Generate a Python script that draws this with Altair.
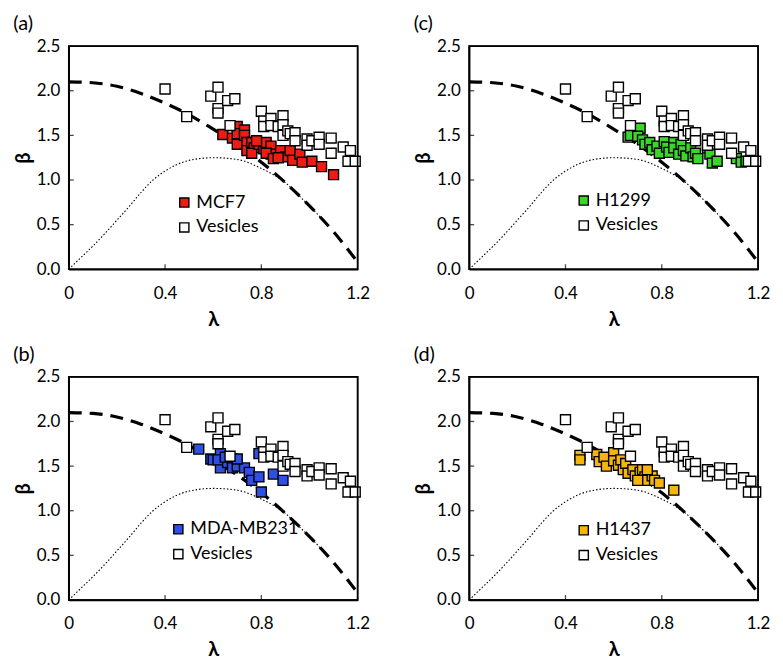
import altair as alt
import pandas as pd

# ---------------- data ----------------
ves_lam = [0.40, 0.49, 0.59, 0.62, 0.62, 0.62, 0.66, 0.69, 0.67, 0.80, 0.81, 0.81,
           0.84, 0.84, 0.87, 0.89, 0.89, 0.89, 0.91, 0.92, 0.94, 0.94, 0.99, 0.99,
           1.01, 1.04, 1.04, 1.09, 1.09, 1.14, 1.17, 1.16, 1.19]
ves_beta = [2.02, 1.71, 1.94, 2.04, 1.80, 1.75, 1.89, 1.91, 1.61, 1.77, 1.66, 1.60,
            1.69, 1.61, 1.60, 1.72, 1.62, 1.50, 1.55, 1.52, 1.53, 1.44, 1.46, 1.39,
            1.44, 1.48, 1.40, 1.47, 1.30, 1.37, 1.33, 1.21, 1.21]

mcf7_lam = [0.64, 0.70, 0.68, 0.70, 0.70, 0.73, 0.73, 0.74, 0.74, 0.76, 0.77, 0.76,
            0.79, 0.81, 0.82, 0.84, 0.84, 0.82, 0.85, 0.88, 0.90, 0.92, 0.93, 0.96,
            0.97, 1.01, 1.05, 1.10, 0.78, 0.87]
mcf7_beta = [1.51, 1.60, 1.47, 1.40, 1.52, 1.56, 1.50, 1.42, 1.33, 1.42, 1.36, 1.30,
             1.40, 1.35, 1.42, 1.38, 1.29, 1.30, 1.24, 1.33, 1.26, 1.33, 1.22, 1.29,
             1.20, 1.21, 1.15, 1.06, 1.44, 1.25]

h1299_lam = [0.66, 0.67, 0.71, 0.70, 0.72, 0.73, 0.75, 0.76, 0.78, 0.79, 0.81, 0.82,
             0.83, 0.85, 0.85, 0.87, 0.88, 0.89, 0.90, 0.92, 0.93, 0.94, 0.95, 0.99,
             1.00, 1.01, 1.03, 1.11, 1.13, 1.15]
h1299_beta = [1.48, 1.50, 1.58, 1.49, 1.45, 1.40, 1.42, 1.34, 1.38, 1.30, 1.43, 1.37,
              1.31, 1.42, 1.36, 1.29, 1.40, 1.33, 1.27, 1.36, 1.26, 1.30, 1.24, 1.36,
              1.29, 1.19, 1.21, 1.24, 1.20, 1.21]

mda_lam = [0.54, 0.59, 0.60, 0.63, 0.63, 0.62, 0.66, 0.68, 0.68, 0.70, 0.73, 0.75,
           0.76, 0.79, 0.80, 0.79, 0.85, 0.89, 0.65, 0.70]
mda_beta = [1.69, 1.58, 1.57, 1.64, 1.48, 1.57, 1.54, 1.58, 1.48, 1.50, 1.48, 1.43,
            1.34, 1.38, 1.21, 1.64, 1.41, 1.34, 1.60, 1.58]

h1437_lam = [0.46, 0.46, 0.53, 0.54, 0.56, 0.57, 0.60, 0.60, 0.62, 0.63, 0.64, 0.65,
             0.66, 0.68, 0.69, 0.71, 0.72, 0.73, 0.74, 0.76, 0.74, 0.77, 0.79, 0.85,
             0.70]
h1437_beta = [1.62, 1.57, 1.63, 1.55, 1.60, 1.50, 1.65, 1.56, 1.51, 1.57, 1.46, 1.53,
              1.42, 1.46, 1.39, 1.43, 1.46, 1.38, 1.34, 1.39, 1.46, 1.34, 1.31, 1.23,
              1.34]

dash_lam = [0.0, 0.1, 0.2, 0.3, 0.4, 0.5, 0.6, 0.7, 0.8, 0.9, 1.0, 1.1, 1.2]
dash_beta = [2.10, 2.09, 2.05, 1.97, 1.86, 1.73, 1.57, 1.40, 1.20, 0.97, 0.71, 0.42, 0.08]

dot_lam = [0.0, 0.05, 0.10, 0.15, 0.20, 0.25, 0.30, 0.35, 0.40, 0.50, 0.60, 0.70,
           0.80, 0.85, 0.90, 0.95, 1.00, 1.05]
dot_beta = [0.0, 0.13, 0.26, 0.40, 0.55, 0.70, 0.86, 1.00, 1.10, 1.22, 1.25, 1.23,
            1.13, 1.06, 0.97, 0.84, 0.71, 0.57]

x_ticks = [0, 0.4, 0.8, 1.2]
y_ticks = [0.0, 0.5, 1.0, 1.5, 2.0, 2.5]
x_inner_ticks = [0.4, 0.8]
y_inner_ticks = [0.5, 1.0, 1.5, 2.0]

FONT = "Lato"
W, H = 290, 224


def panel(letter, cell_name, lam, beta, color, lx, ly):
    pts = pd.DataFrame(
        {"lam": list(lam) + ves_lam,
         "beta": list(beta) + ves_beta,
         "series": [cell_name] * len(lam) + ["Vesicles"] * len(ves_lam)}
    )
    dash = pd.DataFrame({"lam": dash_lam, "beta": dash_beta})
    dot = pd.DataFrame({"lam": dot_lam, "beta": dot_beta})
    xt = pd.DataFrame({"lam": x_inner_ticks})
    yt = pd.DataFrame({"beta": y_inner_ticks})
    one = pd.DataFrame({"k": [0]})

    xs = alt.Scale(domain=[0, 1.2], nice=False, zero=False)
    ys = alt.Scale(domain=[0, 2.5], nice=False)

    x_main = alt.X("lam:Q", scale=xs, axis=alt.Axis(
        values=x_ticks, labelExpr="datum.value == 0 ? '0' : format(datum.value, '.1f')",
        ticks=False, domain=True, domainColor="black", domainWidth=1.5, grid=False,
        labelFlush=False, labelPadding=16, title="λ", titlePadding=8, orient="bottom"))
    y_main = alt.Y("beta:Q", scale=ys, axis=alt.Axis(
        values=y_ticks, format=".1f", ticks=False, domain=True, domainColor="black",
        domainWidth=1.5, grid=False, labelFlush=False, labelPadding=9, title="β",
        titlePadding=3, orient="left"))

    dashed = alt.Chart(dash).mark_line(
        color="black", strokeWidth=3.2, strokeDash=[13, 8], interpolate="monotone"
    ).encode(x=x_main, y=y_main, order="lam:Q")

    dotted = alt.Chart(dot).mark_line(
        color="black", strokeWidth=1.1, strokeDash=[1.5, 2], interpolate="monotone"
    ).encode(x=x_main, y=y_main, order="lam:Q")

    xtick = alt.Chart(xt).mark_tick(
        color="black", orient="vertical", size=5, thickness=1.3
    ).encode(x=x_main, y=alt.value(H - 2.5))
    ytick = alt.Chart(yt).mark_tick(
        color="black", orient="horizontal", size=5, thickness=1.3
    ).encode(y=y_main, x=alt.value(2.5))

    squares = alt.Chart(pts).mark_square(
        size=100, filled=True, stroke="black", strokeWidth=1.4, opacity=1
    ).encode(
        x=x_main, y=y_main,
        color=alt.Color("series:N",
                        scale=alt.Scale(domain=[cell_name, "Vesicles"], range=[color, "white"]),
                        sort=[cell_name, "Vesicles"],
                        legend=alt.Legend(title=None, orient="none", legendX=lx, legendY=ly,
                                          symbolType="square", symbolSize=85,
                                          symbolStrokeColor="black", symbolStrokeWidth=1.4,
                                          labelFont=FONT, labelFontSize=18, labelColor="black",
                                          labelOffset=3, rowPadding=7, padding=0)),
    )

    frame = alt.Chart(one).mark_rect(
        fillOpacity=0, stroke="black", strokeWidth=1.6
    ).encode(x=alt.value(0), x2=alt.value(W), y=alt.value(0), y2=alt.value(H))

    return alt.layer(dashed, dotted, xtick, ytick, squares, frame).properties(
        width=W, height=H,
        title=alt.TitleParams(letter, anchor="start", frame="bounds", fontSize=20,
                              font=FONT, fontWeight="normal", offset=3, color="black"),
    )


a = panel("(a)", "MCF7", mcf7_lam, mcf7_beta, "#ee1c14", 107, 148)
c = panel("(c)", "H1299", h1299_lam, h1299_beta, "#3ad62a", 106, 146)
b = panel("(b)", "MDA-MB231", mda_lam, mda_beta, "#2f50e6", 101, 144)
d = panel("(d)", "H1437", h1437_lam, h1437_beta, "#f5b50c", 106, 145)

row1 = alt.hconcat(a, c, spacing=42).resolve_scale(color="independent")
row2 = alt.hconcat(b, d, spacing=42).resolve_scale(color="independent")

chart = alt.vconcat(row1, row2, spacing=14).resolve_scale(
    color="independent"
).properties(background="white", padding=4).configure_view(
    stroke="black", strokeWidth=1.5
).configure_axis(
    labelFont=FONT, labelFontSize=17, labelColor="black",
    titleFont=FONT, titleFontSize=20, titleFontWeight="bold", titleColor="black",
)

chart.save("out.html", embed_options={"renderer": "svg", "actions": False})
